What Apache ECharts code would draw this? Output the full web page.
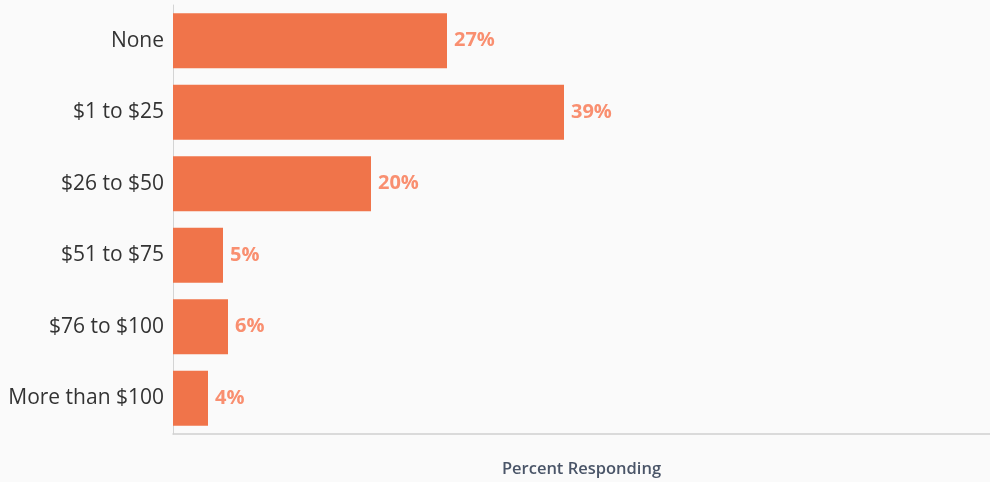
<!DOCTYPE html>
<html><head><meta charset="utf-8">
<script src="https://cdn.jsdelivr.net/npm/echarts@6/dist/echarts.min.js"></script>
<style>html,body{margin:0;padding:0;background:#fafafa;}#c{width:990px;height:482px;}</style>
</head><body><div id="c"></div>
<script>
const categories = ["None", "$1 to $25", "$26 to $50", "$51 to $75", "$76 to $100", "More than $100"];
const percentResponding = [27.4, 39.1, 19.8, 5.0, 5.5, 3.5];
const axisTitle = "Percent Responding";

const chart = echarts.init(document.getElementById('c'));
chart.setOption({
  backgroundColor: '#fafafa',
  animation: false,
  grid: {left: 173, right: 0, top: 5, bottom: 48, containLabel: false, outerBoundsMode: 'none'},
  xAxis: {
    type: 'value', min: 0, max: 81.7,
    name: axisTitle, nameLocation: 'middle', nameGap: 27,
    nameTextStyle: {fontFamily: 'Open Sans', fontSize: 16.5, color: '#4a5568', fontWeight: 600},
    axisLine: {show: true, lineStyle: {color: '#cfcfcf', width: 1.5}},
    axisTick: {show: false}, axisLabel: {show: false}, splitLine: {show: false}
  },
  yAxis: {
    type: 'category', data: categories, inverse: true,
    axisLine: {show: true, lineStyle: {color: '#d4d4d4', width: 1}},
    axisTick: {show: false},
    axisLabel: {fontFamily: 'Open Sans', fontSize: 21, color: '#333', margin: 9}
  },
  series: [{
    type: 'bar', data: percentResponding, barCategoryGap: '23%',
    itemStyle: {color: '#f0744a'},
    label: {show: true, position: 'right', distance: 7,
      formatter: p => Math.round(p.value) + '%',
      fontFamily: 'Open Sans', fontWeight: 'bold', fontSize: 20, color: '#f98f70'}
  }]
});
</script></body></html>
